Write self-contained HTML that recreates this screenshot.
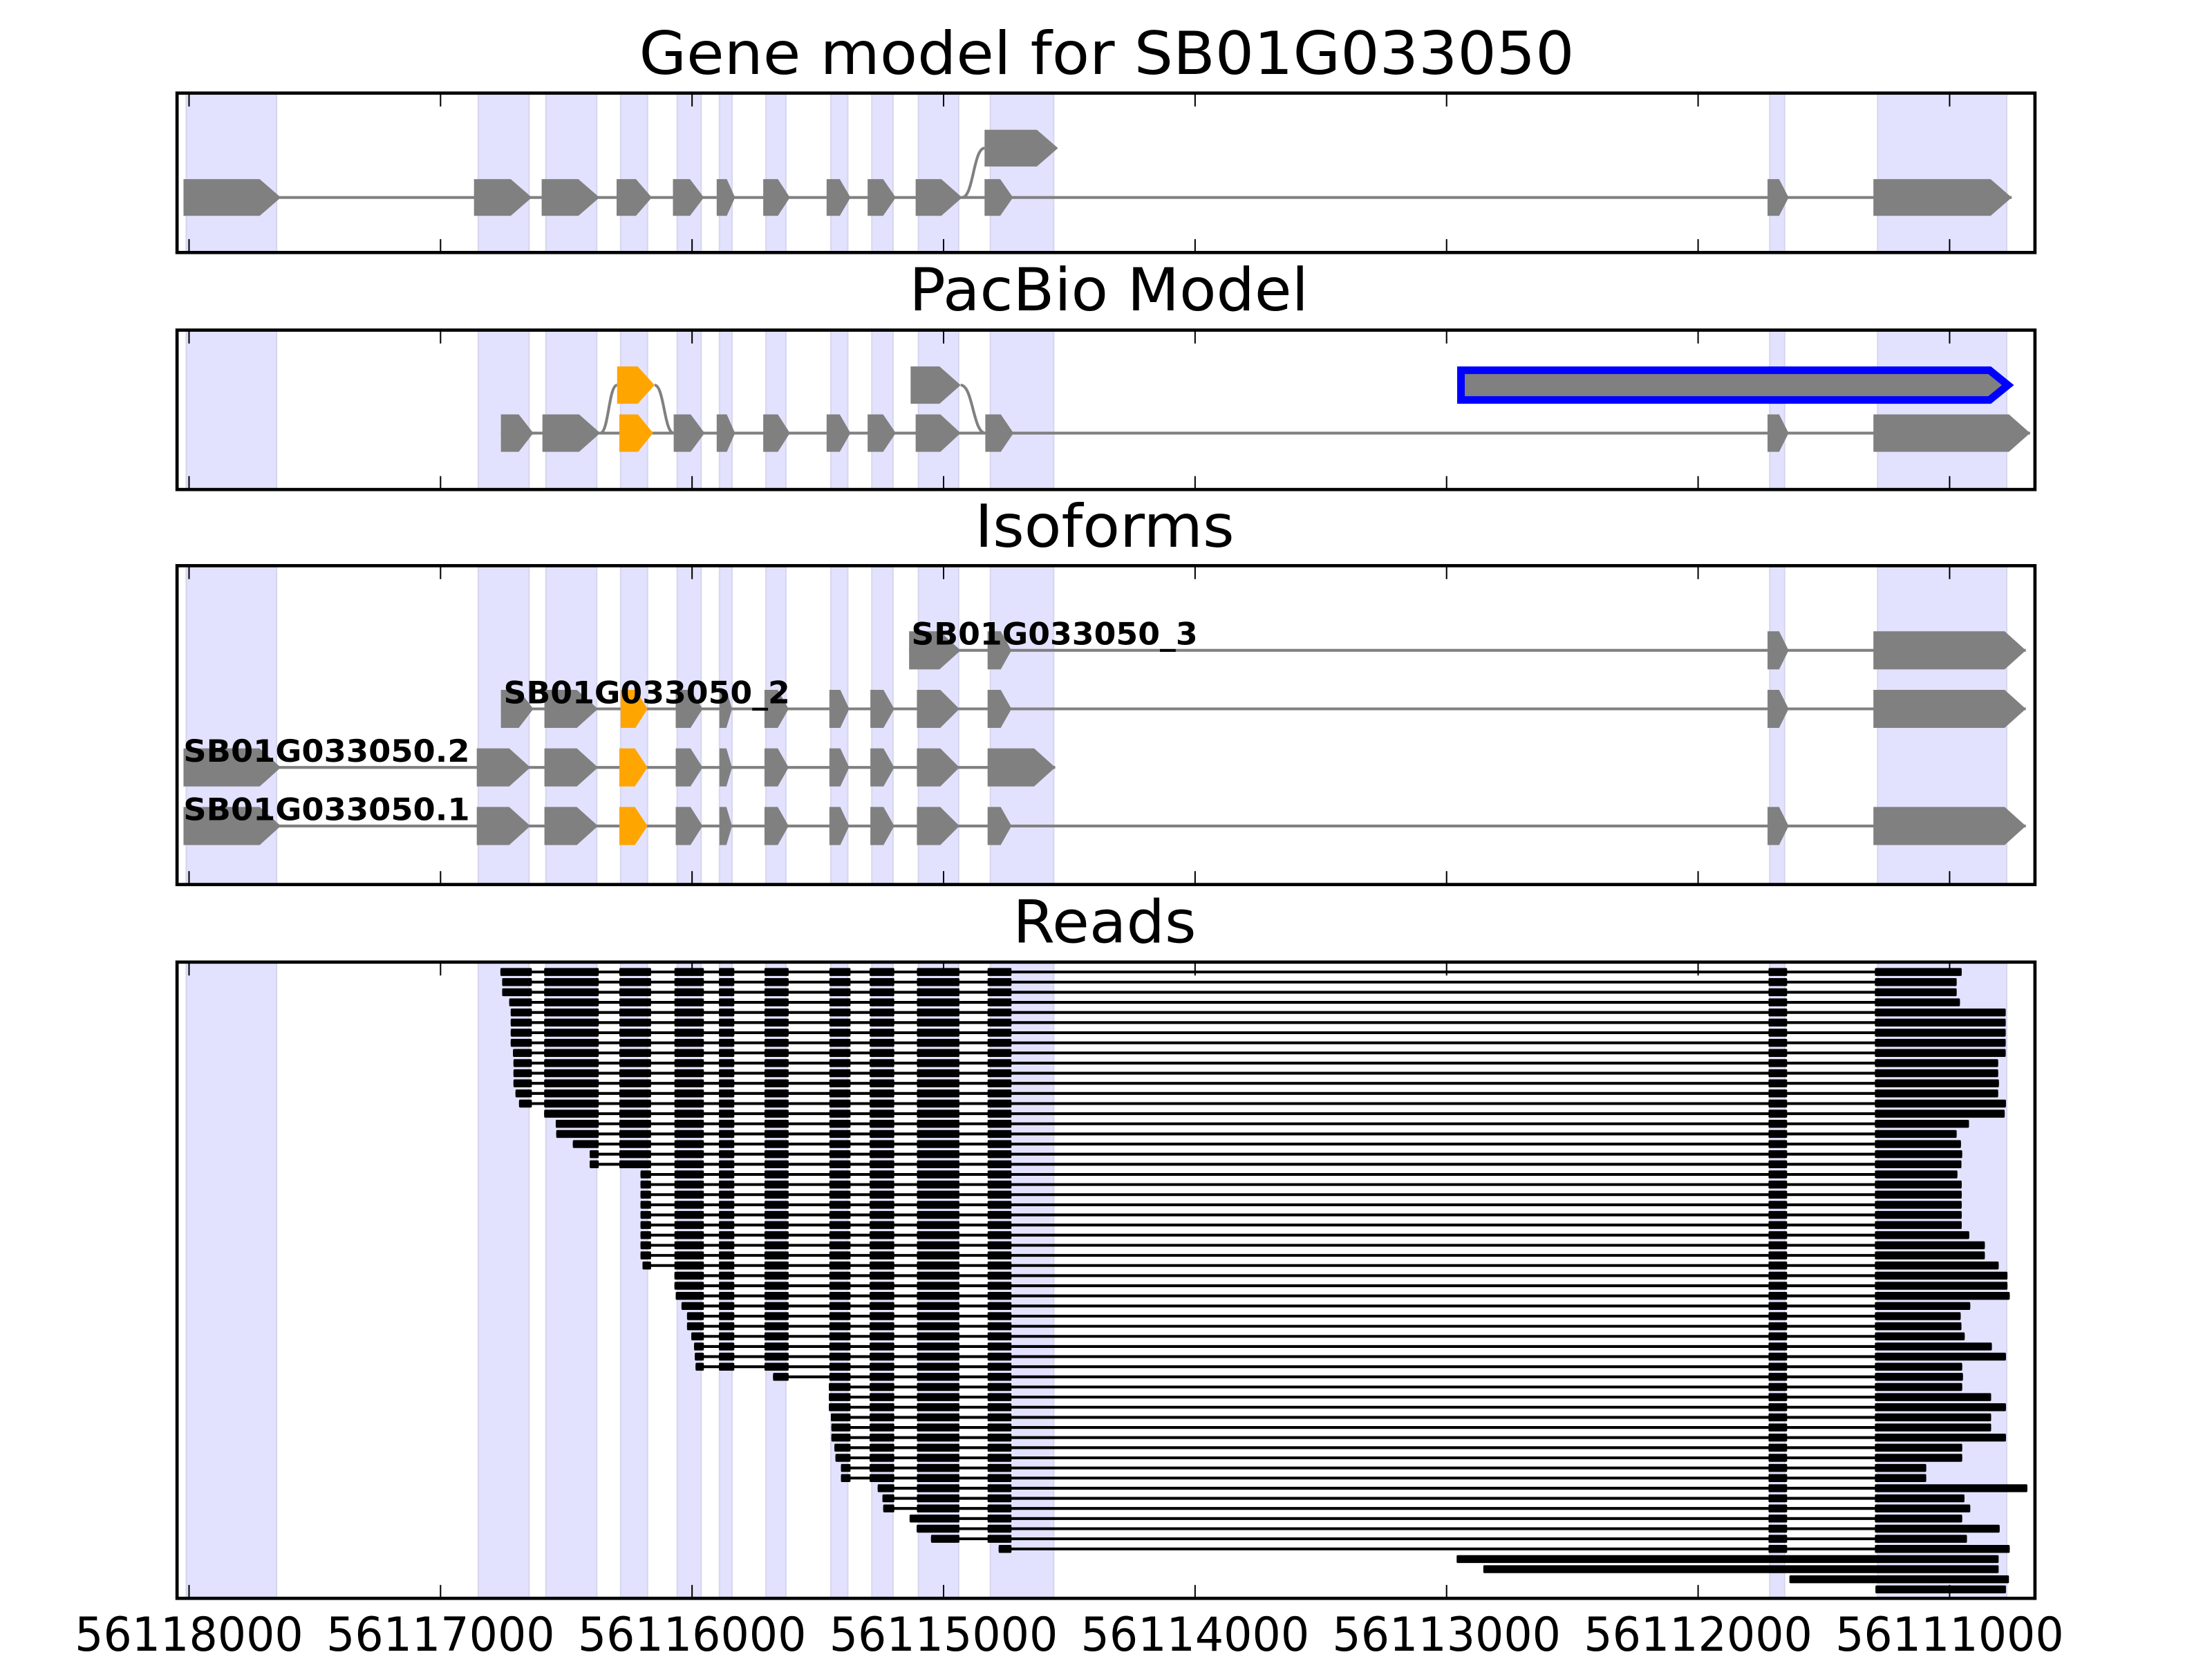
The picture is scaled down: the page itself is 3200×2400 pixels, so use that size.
<!DOCTYPE html>
<html><head><meta charset="utf-8"><title>Gene model for SB01G033050</title>
<style>html,body{margin:0;padding:0;background:#fff}svg{display:block}</style></head>
<body>
<svg id="fig" xmlns="http://www.w3.org/2000/svg" width="3200" height="2400" viewBox="0 0 1568 1176" font-family="'DejaVu Sans','Liberation Sans',sans-serif">
<rect x="0" y="0" width="1568" height="1176" fill="#fff"/>
<text x="784.5" y="52.5" font-size="42" text-anchor="middle" textLength="663" lengthAdjust="spacingAndGlyphs">Gene model for SB01G033050</text>
<text x="786" y="220" font-size="42" text-anchor="middle" textLength="283" lengthAdjust="spacingAndGlyphs">PacBio Model</text>
<text x="783" y="387.5" font-size="42" text-anchor="middle" textLength="184" lengthAdjust="spacingAndGlyphs">Isoforms</text>
<text x="783" y="668" font-size="42" text-anchor="middle" textLength="130" lengthAdjust="spacingAndGlyphs">Reads</text>
<g id="layer"></g>
</svg>
<script>
// ---- data (genomic coordinates) ----
const TICKS = [56118000,56117000,56116000,56115000,56114000,56113000,56112000,56111000];
const TICK_LABELS = ["56118000","56117000","56116000","56115000","56114000","56113000","56112000","56111000"];
const SHADE_START = [56118011,56116850,56116581,56116284,56116059,56115891,56115706,56115448,56115285,56115100,56114814,56111715,56111286];
const SHADE_END   = [56117652,56116648,56116379,56116177,56115964,56115841,56115627,56115381,56115201,56114940,56114562,56111656,56110773];

const GENE_EXONS = [[56118022,56117635],[56116867,56116637],[56116598,56116368],[56116300,56116160],[56116076,56115953],[56115902,56115829],[56115717,56115611],[56115465,56115370],[56115302,56115190],[56115111,56114926],[56114837,56114724],[56111724,56111640],[56111303,56110753]];
const GENE_ALT = [[56114837,56114545]];

const PB_LOWER = [[56116760,56116631],[56116595,56116365],[56116289,56116155],[56116073,56115950],[56115902,56115829],[56115717,56115611],[56115465,56115370],[56115302,56115190],[56115111,56114932],[56114834,56114722],[56111724,56111640],[56111303,56110680]];
const PB_LOWER_ORANGE = [2];
const PB_UPPER_ORANGE = [[56116298,56116149]];
const PB_UPPER_GREY = [[56115131,56114932]];
const PB_SELECTED = [[56112958,56110753]];

const ISO_NAMES = ["SB01G033050_3","SB01G033050_2","SB01G033050.2","SB01G033050.1"];
const ISO_3 = [[56115137,56114932],[56114825,56114730],[56111724,56111640],[56111303,56110697]];
const ISO_2 = [[56116760,56116631],[56116587,56116374],[56116284,56116177],[56116065,56115958],[56115891,56115841],[56115712,56115616],[56115454,56115375],[56115291,56115196],[56115106,56114937],[56114825,56114730],[56111724,56111640],[56111303,56110697]];
const ISO_D2 = [[56118022,56117635],[56116856,56116643],[56116587,56116374],[56116289,56116177],[56116065,56115958],[56115891,56115841],[56115712,56115616],[56115454,56115375],[56115291,56115196],[56115106,56114937],[56114825,56114556]];
const ISO_D1 = [[56118022,56117635],[56116856,56116643],[56116587,56116374],[56116289,56116177],[56116065,56115958],[56115891,56115841],[56115712,56115616],[56115454,56115375],[56115291,56115196],[56115106,56114937],[56114825,56114730],[56111724,56111640],[56111303,56110697]];
const ISO_ORANGE = [-1,2,3,3];

const READ_EXONS = [[56116762,56116637],[56116588,56116371],[56116289,56116163],[56116070,56115953],[56115893,56115832],[56115712,56115616],[56115454,56115370],[56115294,56115196],[56115106,56114937],[56114825,56114730],[56111720,56111646],[56111297,56110600]];
const READ_START = [56116762,56116755,56116755,56116727,56116721,56116721,56116721,56116721,56116712,56116710,56116710,56116710,56116702,56116688,56116588,56116542,56116540,56116474,56116407,56116407,56116205,56116205,56116205,56116205,56116205,56116205,56116205,56116205,56116205,56116197,56116070,56116070,56116065,56116042,56116020,56116020,56116003,56115992,56115989,56115986,56115678,56115456,56115456,56115456,56115448,56115446,56115446,56115434,56115430,56115408,56115408,56115262,56115243,56115240,56115135,56115107,56115050,56114781];
const READ_END = [56110952,56110972,56110972,56110959,56110777,56110777,56110777,56110777,56110777,56110807,56110807,56110804,56110807,56110776,56110781,56110923,56110972,56110955,56110950,56110953,56110969,56110952,56110952,56110952,56110952,56110952,56110922,56110860,56110860,56110805,56110770,56110770,56110761,56110918,56110956,56110953,56110940,56110832,56110776,56110950,56110947,56110950,56110835,56110776,56110835,56110835,56110776,56110950,56110950,56111093,56111093,56110691,56110941,56110918,56110950,56110801,56110931,56110761];
const UNSPLICED_START = [56112960,56112854,56111637,56111295];
const UNSPLICED_END = [56110805,56110805,56110764,56110776];

// ---- layout ----
const NS = "http://www.w3.org/2000/svg";
const layer = document.getElementById('layer');
const G0 = 56118000, PXBP = 0.178286, X0 = 134;
function X(g){ return X0 + (G0 - g) * PXBP; }
const FL = 125.5, FR = 1442.5;
const PANELS = [[66,179,'panel-gene-model'],[234,347,'panel-pacbio'],[401,627,'panel-isoforms'],[682,1133,'panel-reads']];
const GREY = '#808080', ORANGE = '#ffa500';

function mk(tag, attrs, parent){
  const el = document.createElementNS(NS, tag);
  for (const k in attrs) el.setAttribute(k, attrs[k]);
  (parent || layer).appendChild(el);
  return el;
}
function arrow(l, r, yc, h, color, g, name){
  const lx = X(l), rx = X(r), w = rx - lx, tip = Math.min(15, 0.45*w);
  const d = `M${lx},${yc-h/2} L${rx-tip},${yc-h/2} L${rx},${yc} L${rx-tip},${yc+h/2} L${lx},${yc+h/2} Z`;
  const p = mk('path', {d: d, fill: color}, g);
  
  
  return p;
}
function hline(x1, x2, y, w, color, g, name){
  const l = mk('line', {x1: x1, x2: x2, y1: y, y2: y, stroke: color, 'stroke-width': w}, g);
  
  
}
function curve(g1, y1, g2, y2, g){
  const x1 = X(g1), x2 = X(g2), xm = (x1 + x2)/2;
  const p = mk('path', {d: `M${x1},${y1} C${xm},${y1} ${xm},${y2} ${x2},${y2}`, fill: 'none', stroke: GREY, 'stroke-width': 2}, g);
  
  
}

// panels: shading, ticks, frames
PANELS.forEach(([top, bot, name]) => {
  const g = mk('g', {});
  
  
  for (let i = 0; i < SHADE_START.length; i++){
    const r = mk('rect', {x: X(SHADE_START[i]), y: top, width: X(SHADE_END[i]) - X(SHADE_START[i]), height: bot - top, fill: '#e2e2fe', stroke: '#d6d6ee', 'stroke-width': 1}, g);
    
    
  }
  TICKS.forEach(t => {
    const x = X(t);
    const a = mk('line', {x1: x, x2: x, y1: top, y2: top + 9.5, stroke: '#000', 'stroke-width': 1}, g);
    
    
    const b = mk('line', {x1: x, x2: x, y1: bot, y2: bot - 9.5, stroke: '#000', 'stroke-width': 1}, g);
    
    
  });
  g.dataset.top = top; g.dataset.bot = bot;
});

// gene model
(function(){
  const g = mk('g', {});
  
  
  const yc = 140, yu = 105, h = 26;
  hline(X(GENE_EXONS[0][0]), X(GENE_EXONS[GENE_EXONS.length-1][1]), yc, 2, GREY, g, 'intron-line');
  curve(GENE_EXONS[9][1], yc, GENE_ALT[0][0], yu, g);
  GENE_EXONS.forEach(e => arrow(e[0], e[1], yc, h, GREY, g, 'gene-exon'));
  GENE_ALT.forEach(e => arrow(e[0], e[1], yu, h, GREY, g, 'gene-alt-exon'));
})();

// pacbio
(function(){
  const g = mk('g', {});
  
  
  const yl = 307, yu = 273, h = 26.5;
  hline(X(PB_LOWER[0][0]), X(PB_LOWER[PB_LOWER.length-1][1]), yl, 2, GREY, g, 'intron-line');
  curve(PB_LOWER[1][1], yl, PB_UPPER_ORANGE[0][0], yu, g);
  curve(PB_UPPER_ORANGE[0][1], yu, PB_LOWER[3][0], yl, g);
  curve(PB_UPPER_GREY[0][1], yu, PB_LOWER[9][0], yl, g);
  PB_LOWER.forEach((e, i) => arrow(e[0], e[1], yl, h, PB_LOWER_ORANGE.includes(i) ? ORANGE : GREY, g, 'pacbio-exon'));
  PB_UPPER_ORANGE.forEach(e => arrow(e[0], e[1], yu, h, ORANGE, g, 'pacbio-alt-exon'));
  PB_UPPER_GREY.forEach(e => arrow(e[0], e[1], yu, h, GREY, g, 'pacbio-alt-exon'));
  PB_SELECTED.forEach(e => {
    const lx = X(e[0]) + 2.7, rx = X(e[1]) - 2.7, yt = yu - 13.25 + 2.7, yb = yu + 13.25 - 2.7, tip = 13;
    const p = mk('path', {d: `M${lx},${yt} L${rx-tip},${yt} L${rx},${yu} L${rx-tip},${yb} L${lx},${yb} Z`, fill: GREY, stroke: '#0000ff', 'stroke-width': 5.4}, g);
    
    
  });
})();

// isoforms
(function(){
  const g = mk('g', {});
  
  
  const rows = [ISO_3, ISO_2, ISO_D2, ISO_D1];
  const ys = [461, 502.5, 544, 585.5];
  const lx = [646, 357, 130, 130];
  rows.forEach((ex, r) => {
    const yc = ys[r];
    hline(X(ex[0][0]), X(ex[ex.length-1][1]), yc, 2, GREY, g, 'intron-line');
    ex.forEach((e, i) => arrow(e[0], e[1], yc, 27, i === ISO_ORANGE[r] ? ORANGE : GREY, g, 'isoform-exon'));
  });
  rows.forEach((ex, r) => {
    const t = mk('text', {x: lx[r], y: ys[r] - 4, 'font-size': 22, 'font-weight': 'bold', textLength: 203, lengthAdjust: 'spacingAndGlyphs'}, g);
    t.textContent = ISO_NAMES[r];
    
    
  });
})();

// reads
(function(){
  const g = mk('g', {});
  
  
  const y0 = 689, dy = 7.175, bh = 5.6;
  for (let i = 0; i < READ_START.length; i++){
    const yc = y0 + i*dy, sx = X(READ_START[i]), ex = X(READ_END[i]);
    hline(sx, ex, yc, 2, '#000', g, 'read-intron');
    const blocks = READ_EXONS.map(e => [X(e[0]), X(e[1])]).filter(b => b[1] > sx && b[0] < ex);
    if (blocks.length){ blocks[0][0] = sx; blocks[blocks.length-1][1] = ex; }
    blocks.forEach(b => {
      const r = mk('rect', {x: b[0], y: yc - bh/2, width: Math.max(0.5, b[1]-b[0]), height: bh, fill: '#000', rx: 0.8}, g);
      
      
    });
  }
  for (let j = 0; j < UNSPLICED_START.length; j++){
    const yc = y0 + (READ_START.length + j)*dy;
    const r = mk('rect', {x: X(UNSPLICED_START[j]), y: yc - bh/2, width: X(UNSPLICED_END[j]) - X(UNSPLICED_START[j]), height: bh, fill: '#000', rx: 0.8}, g);
    
    
  }
})();

// frames on top
PANELS.forEach(([top, bot, name]) => {
  const f = mk('rect', {x: FL, y: top, width: FR - FL, height: bot - top, fill: 'none', stroke: '#000', 'stroke-width': 2.3});
  
  
});

// x tick labels
TICKS.forEach((t, i) => {
  const tx = mk('text', {x: X(t), y: 1170, 'font-size': 33, 'text-anchor': 'middle', textLength: 162, lengthAdjust: 'spacingAndGlyphs'});
  tx.textContent = TICK_LABELS[i];
  
  
});
</script>
</body></html>
